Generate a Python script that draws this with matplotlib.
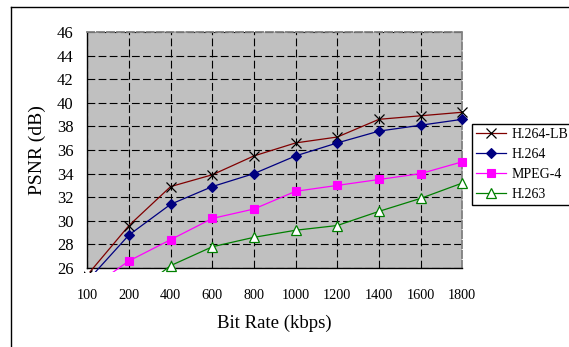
import matplotlib
matplotlib.use("Agg")
import matplotlib.pyplot as plt
from matplotlib.lines import Line2D
from matplotlib.patches import Rectangle
import numpy as np

# ---- data ----
bit_rates = ["100", "200", "400", "600", "800", "1000", "1200", "1400", "1600", "1800"]
h264_lb = [25.4, 29.6, 32.9, 33.9, 35.5, 36.6, 37.1, 38.6, 38.9, 39.2]
h264 = [24.9, 28.8, 31.4, 32.9, 34.0, 35.5, 36.6, 37.6, 38.1, 38.6]
mpeg4 = [24.1, 26.6, 28.4, 30.2, 31.0, 32.5, 33.0, 33.5, 34.0, 35.0]
h263 = [np.nan, 23.5, 26.2, 27.8, 28.6, 29.2, 29.6, 30.8, 31.9, 33.2]
y_ticks = [26, 28, 30, 32, 34, 36, 38, 40, 42, 44, 46]

plt.rcParams['font.family'] = ['Liberation Serif', 'DejaVu Serif']

W, H = 569, 347
fig = plt.figure(figsize=(W / 100, H / 100), dpi=100)
ax = fig.add_axes([87.3 / W, 1 - 268 / H, (462.3 - 87.3) / W, (268 - 32) / H])
ax.set_facecolor('#C0C0C0')

x = np.arange(len(bit_rates))
clip = Rectangle((-0.01, -0.017), 1.04, 1.04, transform=ax.transAxes, visible=False)
ax.add_patch(clip)

series = [
    ("H.264-LB", h264_lb, dict(color='#800000', marker='x', mec='black', mfc='black', ms=6.5, mew=0.9)),
    ("H.264", h264, dict(color='#000080', marker='D', mec='#000080', mfc='#000080', ms=4.8, mew=0.8)),
    ("MPEG-4", mpeg4, dict(color='#FF00FF', marker='s', mec='#FF00FF', mfc='#FF00FF', ms=5.4, mew=0.8)),
    ("H.263", h263, dict(color='#008000', marker='^', mec='#008000', mfc='white', ms=6.5, mew=0.9)),
]
handles = []
for name, vals, st in series:
    ln, = ax.plot(x, vals, lw=0.9, label=name, zorder=3, **st)
    ln.set_clip_path(clip)
    handles.append(ln)

ax.set_xlim(0, 9)
ax.set_ylim(26, 46)
ax.set_xticks(x)
ax.set_xticklabels(bit_rates, fontsize=10.3)
ax.set_yticks(y_ticks)
ax.set_yticklabels([str(v) for v in y_ticks], fontsize=12)
ax.tick_params(axis='both', length=0)
ax.tick_params(axis='y', pad=10)
ax.tick_params(axis='x', pad=15)

ax.grid(True, color='black', linestyle=(0, (7, 3)), linewidth=0.8, zorder=1)
ax.set_axisbelow(True)

for side in ['top', 'right']:
    ax.spines[side].set_color('#808080')
    ax.spines[side].set_linestyle((0, (4, 1.5)))
    ax.spines[side].set_linewidth(1.3)
for side in ['left', 'bottom']:
    ax.spines[side].set_color('black')
    ax.spines[side].set_linewidth(1.0)

ax.set_ylabel('PSNR (dB)', fontsize=14, labelpad=8)
ax.set_xlabel('Bit Rate (kbps)', fontsize=13.5, labelpad=9)

leg = fig.legend(handles=handles, loc='upper left',
                 bbox_to_anchor=(471.5 / W, 1 - 123.5 / H),
                 fontsize=10, frameon=True, fancybox=False, shadow=False,
                 handlelength=2.2, handletextpad=0.35, labelspacing=0.5,
                 borderpad=0.3, borderaxespad=0, edgecolor='black')
leg.get_frame().set_linewidth(1.0)
leg.get_frame().set_facecolor('white')
leg.get_frame().set_alpha(1)

# outer chart frame (left and top edges visible)
fig.add_artist(Line2D([11 / W, 11 / W], [0, 1 - 6.7 / H], transform=fig.transFigure, color='black', lw=1.0))
fig.add_artist(Line2D([11 / W, 1], [1 - 6.7 / H, 1 - 6.7 / H], transform=fig.transFigure, color='black', lw=1.0))

fig.savefig('out.png', dpi=100)
